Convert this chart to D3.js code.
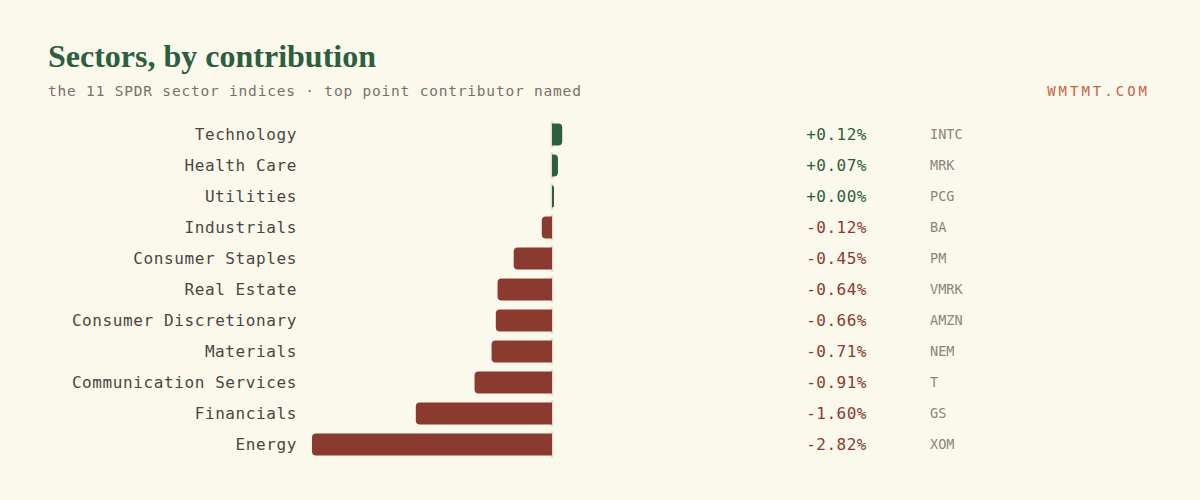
<!DOCTYPE html>
<html><head><meta charset="utf-8">
<script src="https://cdn.jsdelivr.net/npm/d3@7"></script>
<style>body{margin:0;background:#fbf8ec}</style></head>
<body><div id="chart"></div>
<script>
var sectors = ['Technology','Health Care','Utilities','Industrials','Consumer Staples','Real Estate','Consumer Discretionary','Materials','Communication Services','Financials','Energy'];
var changes = [0.12, 0.07, 0.004, -0.12, -0.45, -0.64, -0.66, -0.71, -0.91, -1.60, -2.82];
var tickers = ['INTC','MRK','PCG','BA','PM','VMRK','AMZN','NEM','T','GS','XOM'];

var green = '#2d5e40', red = '#8b3a2f', mono = '"DejaVu Sans Mono", monospace';
var svg = d3.select('#chart').append('svg').attr('width', 1200).attr('height', 500)
    .style('background', '#fbf8ec');

svg.append('text').attr('x', 48).attr('y', 67).text('Sectors, by contribution')
    .attr('font-family', '"Liberation Serif", serif').attr('font-weight', 'bold')
    .attr('font-size', 32).attr('fill', green);
svg.append('text').attr('x', 48).attr('y', 96)
    .text('the 11 SPDR sector indices \u00b7 top point contributor named')
    .attr('font-family', mono).attr('font-size', 14.5).attr('letter-spacing', 0.8).attr('fill', '#77736a');
svg.append('text').attr('x', 1150).attr('y', 96).attr('text-anchor', 'end').text('WMTMT.COM')
    .attr('font-family', mono).attr('font-size', 14).attr('fill', '#c9643f').attr('letter-spacing', 3);

var x = d3.scaleLinear().domain([-2.82, 0]).range([312, 552]);
var y = d3.scaleBand().domain(sectors).range([119, 460]).paddingInner(0.29).paddingOuter(0.145);
var fmt = function (v) { return (v >= 0 ? '+' : '-') + Math.abs(v).toFixed(2) + '%'; };

var rows = svg.selectAll('g.row').data(sectors).enter().append('g')
    .attr('transform', function (d) { return 'translate(0,' + y(d) + ')'; });

rows.append('line').attr('x1', x(0)).attr('x2', x(0)).attr('y1', -2).attr('y2', y.bandwidth() + 2)
    .attr('stroke', '#e2dcc4').attr('stroke-width', 2.5);

rows.append('path').attr('fill', function (d, i) { return changes[i] >= 0 ? green : red; })
    .attr('d', function (d, i) {
        var v = changes[i], x0 = x(0), x1 = x(v), h = y.bandwidth();
        var w = Math.abs(x1 - x0), r = Math.min(4, w), s = v >= 0 ? 1 : -1;
        if (w < 2) { x1 = x0 + 2 * s; w = 2; r = 2; }
        return 'M' + x0 + ',0L' + (x1 - s * r) + ',0Q' + x1 + ',0 ' + x1 + ',' + r +
            'L' + x1 + ',' + (h - r) + 'Q' + x1 + ',' + h + ' ' + (x1 - s * r) + ',' + h +
            'L' + x0 + ',' + h + 'Z';
    });

rows.append('text').attr('x', 297).attr('y', y.bandwidth() / 2).attr('dy', '0.35em')
    .attr('text-anchor', 'end').text(function (d) { return d; })
    .attr('font-family', mono).attr('font-size', 16).attr('letter-spacing', 0.6).attr('fill', '#4a4740');
rows.append('text').attr('x', 867).attr('y', y.bandwidth() / 2).attr('dy', '0.35em')
    .attr('text-anchor', 'end').text(function (d, i) { return fmt(changes[i]); })
    .attr('font-family', mono).attr('font-size', 16).attr('letter-spacing', 0.5)
    .attr('fill', function (d, i) { return changes[i] >= 0 ? green : red; });
rows.append('text').attr('x', 930).attr('y', y.bandwidth() / 2).attr('dy', '0.35em')
    .text(function (d, i) { return tickers[i]; })
    .attr('font-family', mono).attr('font-size', 13.5).attr('fill', '#8a867c');
</script></body></html>
